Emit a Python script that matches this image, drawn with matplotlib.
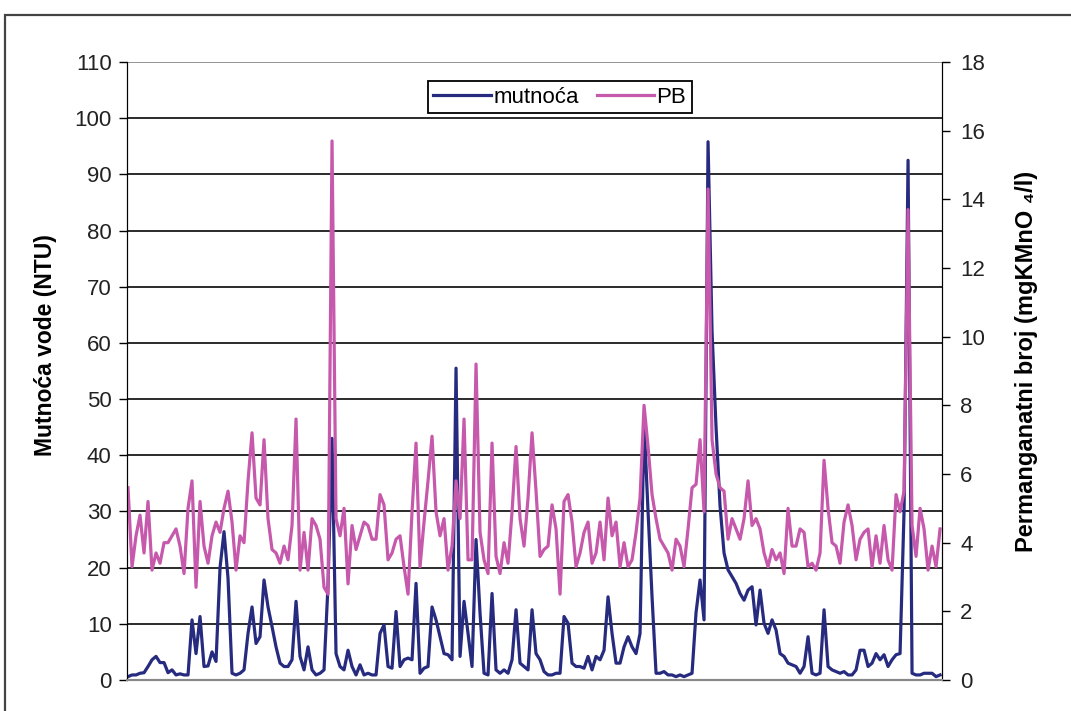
import matplotlib
matplotlib.use("Agg")
import matplotlib.pyplot as plt
from matplotlib.patches import Rectangle

plt.rcParams['font.family'] = ['Liberation Sans', 'DejaVu Sans']

# turbidity (NTU), left axis
mutnoca = [
    0.6, 0.9, 0.9, 1.2, 1.3, 2.4, 3.6, 4.2, 3.1, 3.1,
    1.3, 1.8, 0.9, 1.1, 0.9, 0.9, 10.7, 4.7, 11.3, 2.4,
    2.5, 5.0, 3.3, 20, 26.4, 18.1, 1.2, 0.9, 1.2, 1.8,
    8.3, 13, 6.5, 7.7, 17.8, 13, 9.5, 5.9, 3.0, 2.4,
    2.4, 3.6, 14, 4.2, 1.8, 5.9, 1.8, 0.9, 1.2, 1.8,
    17, 43, 4.7, 2.4, 1.8, 5.3, 2.4, 0.9, 2.7, 0.9,
    1.2, 0.9, 0.9, 8.3, 9.8, 2.4, 2.1, 12.2, 2.4, 3.6,
    3.9, 3.6, 17.2, 1.2, 2.1, 2.4, 13, 10.7, 7.7, 4.7,
    4.5, 3.6, 55.5, 4.2, 14, 8.3, 2.4, 25, 11.9, 1.2,
    0.9, 15.4, 1.8, 1.2, 1.8, 1.2, 3.6, 12.5, 3.0, 2.4,
    1.8, 12.5, 4.7, 3.6, 1.5, 0.9, 0.9, 1.2, 1.2, 11.3,
    10.1, 3.0, 2.4, 2.4, 2.1, 4.2, 1.8, 4.2, 3.6, 5.3,
    14.8, 8.3, 3.0, 3.0, 5.9, 7.7, 5.9, 4.7, 8.3, 46,
    30, 14.8, 1.2, 1.2, 1.5, 0.9, 0.9, 0.6, 0.9, 0.6,
    0.9, 1.2, 12, 17.8, 10.7, 95.8, 62, 45, 31, 22.6,
    19.6, 18.4, 17.2, 15.4, 14.2, 16, 16.6, 9.8, 16, 10.1,
    8.3, 10.7, 8.9, 4.7, 4.2, 3.0, 2.7, 2.4, 1.2, 2.4,
    7.7, 1.2, 0.9, 1.2, 12.5, 2.4, 1.8, 1.5, 1.2, 1.5,
    0.9, 0.9, 1.8, 5.3, 5.3, 2.4, 3.0, 4.7, 3.6, 4.5,
    2.4, 3.6, 4.5, 4.7, 30, 92.5, 1.2, 0.9, 0.9, 1.2,
    1.2, 1.2, 0.6, 0.9,
]

# permanganate number (mgKMnO4/l), right axis
pb = [
    5.6, 3.3, 4.2, 4.8, 3.7, 5.2, 3.2, 3.7, 3.4, 4.0,
    4.0, 4.2, 4.4, 3.9, 3.1, 5.0, 5.8, 2.7, 5.2, 3.9,
    3.4, 4.2, 4.6, 4.3, 5.0, 5.5, 4.6, 3.2, 4.2, 4.0,
    5.8, 7.2, 5.3, 5.1, 7.0, 4.7, 3.8, 3.7, 3.4, 3.9,
    3.5, 4.5, 7.6, 3.2, 4.3, 3.2, 4.7, 4.5, 4.1, 2.7,
    2.5, 15.7, 4.7, 4.2, 5.0, 2.8, 4.5, 3.8, 4.2, 4.6,
    4.5, 4.1, 4.1, 5.4, 5.1, 3.5, 3.7, 4.1, 4.2, 3.3,
    2.5, 4.9, 6.9, 3.3, 4.6, 5.8, 7.1, 4.9, 4.2, 4.7,
    3.2, 3.9, 5.8, 4.7, 7.6, 3.5, 3.5, 9.2, 4.3, 3.5,
    3.1, 6.9, 3.6, 3.1, 4.0, 3.4, 4.9, 6.8, 4.7, 3.9,
    5.3, 7.2, 5.5, 3.6, 3.8, 3.9, 5.1, 4.4, 2.5, 5.2,
    5.4, 4.6, 3.3, 3.7, 4.3, 4.6, 3.4, 3.7, 4.6, 3.5,
    5.3, 4.2, 4.6, 3.3, 4.0, 3.3, 3.5, 4.3, 5.3, 8.0,
    6.8, 5.4, 4.7, 4.1, 3.9, 3.7, 3.2, 4.1, 3.9, 3.3,
    4.4, 5.6, 5.7, 7.0, 4.9, 14.3, 7.0, 6.0, 5.6, 5.5,
    4.1, 4.7, 4.4, 4.1, 4.7, 5.8, 4.5, 4.7, 4.4, 3.7,
    3.3, 3.8, 3.5, 3.7, 3.1, 5.0, 3.9, 3.9, 4.4, 4.3,
    3.3, 3.4, 3.2, 3.7, 6.4, 5.0, 4.0, 3.9, 3.4, 4.6,
    5.1, 4.5, 3.5, 4.1, 4.3, 4.4, 3.3, 4.2, 3.4, 4.5,
    3.5, 3.2, 5.4, 4.9, 5.5, 13.7, 4.5, 3.6, 5.0, 4.4,
    3.2, 3.9, 3.3, 4.4,
]

left_ticks = list(range(0, 111, 10))
right_ticks = list(range(0, 19, 2))

blue = '#272B7F'
pink = '#C659AC'

fig = plt.figure(figsize=(10.71, 7.11), dpi=100)
ax1 = fig.add_axes([0.1186, 0.0436, 0.7610, 0.8692])
ax2 = ax1.twinx()

# outer frame of the (cropped) chart
fig.patches.append(Rectangle((5 / 1071, -0.2), 1.2, 1.2 - 15 / 711,
                             transform=fig.transFigure, fill=False,
                             edgecolor='#444444', linewidth=1.6))

l1, = ax1.plot(range(len(mutnoca)), mutnoca, color=blue, lw=2.3, label='mutnoća')
l2, = ax2.plot(range(len(pb)), pb, color=pink, lw=2.3, label='PB')

ax1.set_xlim(-0.25, len(mutnoca) - 0.5)
ax1.set_ylim(0, 110)
ax2.set_ylim(0, 18)
ax1.set_yticks(left_ticks)
ax2.set_yticks(right_ticks)
ax1.set_xticks([])

ax1.grid(axis='y', color='#1a1a1a', lw=1.3)
ax1.get_ygridlines()[-1].set_color('#8c8c8c')
ax1.set_axisbelow(True)

for ax in (ax1, ax2):
    ax.spines['top'].set_visible(False)
    ax.spines['bottom'].set_color('#888888')
    ax.spines['bottom'].set_linewidth(1.5)
    ax.spines['left'].set_color('black')
    ax.spines['right'].set_color('black')
    ax.tick_params(axis='y', length=6, width=1, labelsize=16, colors='black',
                   labelcolor='#222222')

ax1.tick_params(axis='y', pad=5)
ax2.tick_params(axis='y', pad=7)

ax1.set_ylabel('Mutnoća vode (NTU)', fontsize=16.5, fontweight='bold')
ax1.yaxis.set_label_coords(-0.086, 0.542)
ax2.set_ylabel('Permanganatni broj (mgKMnO ₄/l)', fontsize=17, fontweight='bold')
ax2.yaxis.set_label_coords(1.090, 0.515)

leg = ax2.legend(handles=[l1, l2], loc='upper center', bbox_to_anchor=(0.531, 0.987),
                 ncol=2, fontsize=16, frameon=True, fancybox=False, framealpha=1,
                 edgecolor='black', handlelength=2.6, handletextpad=0.1,
                 columnspacing=0.8, borderpad=0.25)
leg.get_frame().set_linewidth(1.3)

fig.savefig('out.png', dpi=100)
